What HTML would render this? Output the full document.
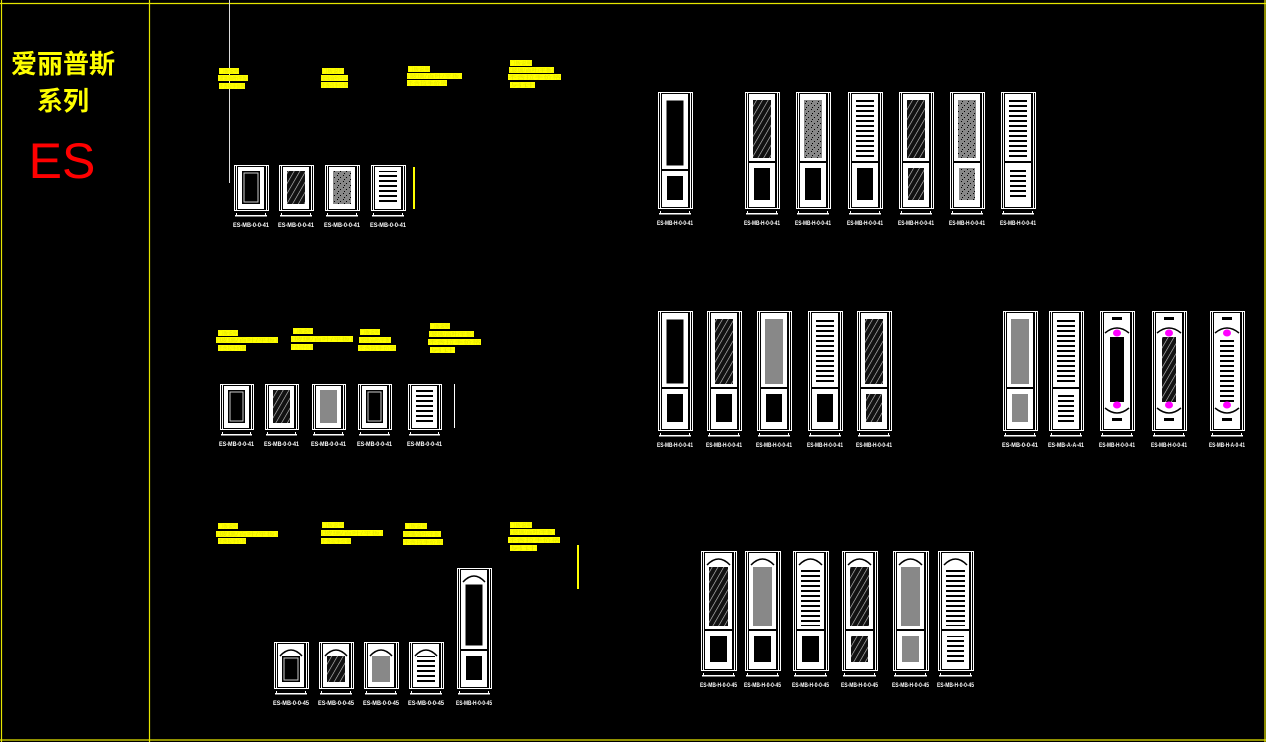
<!DOCTYPE html>
<html><head><meta charset="utf-8">
<style>
html,body{margin:0;padding:0;background:#000;width:1266px;height:742px;overflow:hidden}
svg{display:block}
.t{font-family:"Liberation Sans","Noto Sans CJK SC",sans-serif}
</style></head>
<body>
<svg id="s" width="1266" height="742" viewBox="0 0 1266 742" xmlns="http://www.w3.org/2000/svg">
<defs>
<pattern id="hat" width="5" height="5" patternUnits="userSpaceOnUse" patternTransform="rotate(30)">
<rect width="5" height="5" fill="#111"/><line x1="0" y1="0" x2="0" y2="5" stroke="#ccc" stroke-width="1.2"/>
</pattern>
<pattern id="dot" width="6" height="6" patternUnits="userSpaceOnUse">
<rect width="6" height="6" fill="#888"/><rect x="1" y="1" width="1" height="1" fill="#000"/><rect x="4" y="3" width="1" height="1" fill="#000"/><rect x="2" y="5" width="1" height="1" fill="#000"/>
</pattern>
<pattern id="lou" width="4" height="5" patternUnits="userSpaceOnUse">
<rect width="4" height="5" fill="#fff"/><rect y="0" width="4" height="2" fill="#000"/>
</pattern>
</defs>
<rect width="1266" height="742" fill="#000"/>
<g stroke="#e6e600" stroke-width="1.2" fill="none">
<line x1="0" y1="3.5" x2="1266" y2="3.5"/>
<line x1="0" y1="740" x2="1266" y2="740"/>
<line x1="1.5" y1="0" x2="1.5" y2="742"/>
<line x1="149.5" y1="0" x2="149.5" y2="742"/>
<line x1="1265" y1="0" x2="1265" y2="742"/>
</g>
<line x1="229.5" y1="0" x2="229.5" y2="183" stroke="#ddd" stroke-width="1"/>
<text class="t" x="63" y="73" fill="#ffff00" font-size="26" font-weight="bold" text-anchor="middle">爱丽普斯</text>
<text class="t" x="63" y="110" fill="#ffff00" font-size="26" font-weight="bold" text-anchor="middle">系列</text>
<text class="t" x="62" y="178" fill="#ff0000" font-size="50" text-anchor="middle">ES</text>
<g id="g"></g>
</svg>
<script>
var o='';
function R(x,y,w,h,f,s){o+='<rect x="'+x+'" y="'+y+'" width="'+w+'" height="'+h+'" fill="'+(f||'none')+'"'+(s?' stroke="'+s+'" stroke-width="1"':'')+'/>';}
var F={b:'#000',h:'url(#hat)',g:'#888',d:'url(#dot)',l:'url(#lou)'};
function door(x,y,w,h,top,bot,split,lab,opt){
  opt=opt||{};
  R(x+.5,y+.5,w,h,null,'#fff');
  R(x+2.5,y+.5,w-4,h,null,'#fff');
  R(x+4,y+2,w-8,h-3,'#fff');
  var ix=x+8,iw=w-16;
  if(opt.arch){o+='<path d="M'+(x+6)+' '+(y+14)+' Q'+(x+w/2)+' '+(y+2)+' '+(x+w-6)+' '+(y+14)+'" stroke="#000" fill="none" stroke-width="1.5"/>';}
  if(opt.mag){
    R(ix+4,y+6,iw-8,3,'#000');R(ix+4,y+h-12,iw-8,3,'#000');
    o+='<path d="M'+(x+5)+' '+(y+22)+' Q'+(x+w/2)+' '+(y+12)+' '+(x+w-5)+' '+(y+22)+'" stroke="#000" fill="none" stroke-width="1.5"/>';
    o+='<path d="M'+(x+5)+' '+(y+h-22)+' Q'+(x+w/2)+' '+(y+h-12)+' '+(x+w-5)+' '+(y+h-22)+'" stroke="#000" fill="none" stroke-width="1.5"/>';
    R(ix+2,y+26,iw-4,h-54,F[top]);
    o+='<ellipse cx="'+(x+w/2)+'" cy="'+(y+22)+'" rx="4" ry="3.5" fill="#ff00ff"/>';
    o+='<ellipse cx="'+(x+w/2)+'" cy="'+(y+h-25)+'" rx="4" ry="3.5" fill="#ff00ff"/>';
  } else if(split){
    var ty=y+(opt.arch?16:8);
    R(ix,ty,iw,split-ty-4,F[top],top=='b'?'#fff':null);
    R(x+4,split-1,w-8,2,'#000');
    R(ix+1,split+6,iw-2,y+h-split-14,F[bot]);
  } else {
    var ty=y+(opt.arch?14:6);
    R(ix,ty,iw,y+h-ty-6,F[top]);
    if(top=='b')R(ix+2,ty+2,iw-4,y+h-ty-10,null,'#ccc');
  }
  R(x+1,y+h+5,w-2,1.5,'#fff');
  R(x+2,y+h+3,1,3,'#fff');R(x+w-3,y+h+3,1,3,'#fff');
  o+='<text class="t" x="'+(x-1)+'" y="'+(y+h+17)+'" fill="#fff" font-size="6" font-weight="bold" textLength="'+(w+2)+'" lengthAdjust="spacingAndGlyphs">'+lab+'</text>';
}
[['b',234],['h',279],['d',325],['l',371]].forEach(function(a){door(a[1],165,34,45,a[0],null,0,'ES-MB-0-0-41');});
door(658,92,34,116,'b','b',170,'ES-MB-H-0-0-41');
[['h','b',745],['d','b',796],['l','b',848],['h','h',899],['d','d',950],['l','l',1001]].forEach(function(a){door(a[2],92,34,116,a[0],a[1],162,'ES-MB-H-0-0-41');});
[['b',220],['h',265],['g',312],['b',358],['l',408]].forEach(function(a){door(a[1],384,33,45,a[0],null,0,'ES-MB-0-0-41');});
[['b','b',658],['h','b',707],['g','b',757],['l','b',808],['h','h',857]].forEach(function(a){door(a[2],311,34,119,a[0],a[1],388,'ES-MB-H-0-0-41');});
door(1003,311,34,119,'g','g',388,'ES-MB-0-0-41');
door(1049,311,34,119,'l','l',388,'ES-MB-A-A-41');
door(1100,311,34,119,'b',null,0,'ES-MB-H-0-0-41',{mag:1});
door(1152,311,34,119,'h',null,0,'ES-MB-H-0-0-41',{mag:1});
door(1210,311,34,119,'l',null,0,'ES-MB-H-A-0-41',{mag:1});
[['b',274],['h',319],['g',364],['l',409]].forEach(function(a){door(a[1],642,34,46,a[0],null,0,'ES-MB-0-0-45',{arch:1});});
door(457,568,34,120,'b','b',650,'ES-MB-H-0-0-45',{arch:1});
[['h','b',701],['g','b',745],['l','b',793],['h','h',842],['g','g',893],['l','l',938]].forEach(function(a){door(a[2],551,35,119,a[0],a[1],630,'ES-MB-H-0-0-45',{arch:1});});
function N(lines,txt){lines.forEach(function(l,i){R(l[0],l[1],l[2],6,'#ffff00');o+='<text class="t" x="'+l[0]+'" y="'+(l[1]+5)+'" fill="#e8e800" font-size="5" textLength="'+l[2]+'" lengthAdjust="spacingAndGlyphs">'+(txt[i]||'')+'</text>';});}
var T=['门板说明','(玻璃/百叶/平板)','不含拉手价格','另计'];
N([[219,68,20],[218,75,30],[219,83,26]],T);
N([[322,68,22],[321,75,27],[321,82,27]],T);
N([[408,66,22],[407,73,55],[407,80,40]],T);
N([[510,60,22],[509,67,45],[508,74,53],[510,82,25]],T);
N([[218,330,20],[216,337,62],[218,345,28]],T);
N([[293,328,20],[291,336,62],[291,344,22]],T);
N([[360,329,20],[359,337,32],[358,345,38]],T);
N([[430,323,20],[429,331,45],[428,339,53],[430,347,25]],T);
N([[218,523,20],[216,531,62],[218,538,28]],T);
N([[322,522,22],[321,530,62],[321,538,30]],T);
N([[405,523,22],[403,531,38],[403,539,40]],T);
N([[510,522,22],[510,529,45],[508,537,52],[510,545,27]],T);
R(413,167,2,42,'#ffff00');R(577,545,2,44,'#ffff00');R(454,384,1,44,'#fff');
document.getElementById('g').innerHTML=o;
</script>
</body></html>
